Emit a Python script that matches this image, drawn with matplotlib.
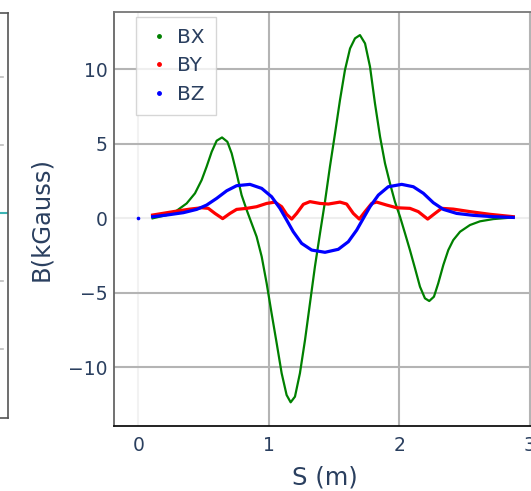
import matplotlib
matplotlib.use("Agg")
import matplotlib.pyplot as plt
from matplotlib.lines import Line2D

plt.rcParams['font.family'] = ['DejaVu Sans']

# Field components along the beamline, S in metres, B in kGauss
bx_s = [0.108, 0.216, 0.292, 0.369, 0.433, 0.484, 0.522, 0.561, 0.599, 0.640,
        0.681, 0.714, 0.752, 0.790, 0.829, 0.867, 0.905, 0.944, 0.982, 1.020,
        1.059, 1.097, 1.135, 1.166, 1.199, 1.237, 1.276, 1.314, 1.352, 1.391,
        1.429, 1.467, 1.506, 1.544, 1.582, 1.621, 1.659, 1.697, 1.736, 1.774,
        1.812, 1.851, 1.889, 1.927, 1.965, 2.004, 2.042, 2.080, 2.119, 2.157,
        2.195, 2.228, 2.264, 2.297, 2.336, 2.374, 2.412, 2.464, 2.540, 2.617,
        2.719, 2.872]
bx = [0.0, 0.22, 0.51, 1.0, 1.68, 2.57, 3.47, 4.47, 5.21, 5.43,
      5.14, 4.36, 3.02, 1.56, 0.56, -0.34, -1.23, -2.57, -4.36, -6.38,
      -8.39, -10.4, -11.86, -12.35, -11.97, -10.4, -8.17, -5.7, -3.24, -1.0,
      1.12, 3.47, 5.7, 7.94, 9.95, 11.4, 12.08, 12.3, 11.74, 10.18,
      7.72, 5.48, 3.69, 2.35, 1.12, 0.11, -1.0, -2.13, -3.36, -4.59,
      -5.37, -5.55, -5.26, -4.36, -3.13, -2.13, -1.46, -0.9, -0.45, -0.2,
      -0.05, 0.06]

by_s = [0.108, 0.267, 0.395, 0.484, 0.535, 0.586, 0.645, 0.701, 0.752, 0.829,
        0.905, 0.982, 1.046, 1.097, 1.135, 1.174, 1.212, 1.263, 1.314, 1.391,
        1.455, 1.544, 1.595, 1.646, 1.692, 1.736, 1.787, 1.825, 1.902, 1.978,
        2.080, 2.144, 2.216, 2.272, 2.323, 2.412, 2.540, 2.693, 2.872]
by = [0.22, 0.45, 0.62, 0.71, 0.67, 0.33, -0.02, 0.33, 0.6, 0.67,
      0.78, 1.0, 1.09, 0.78, 0.27, -0.05, 0.33, 0.94, 1.12, 1.0,
      0.96, 1.09, 0.96, 0.33, -0.05, 0.45, 1.0, 1.09, 0.89, 0.71,
      0.67, 0.45, -0.05, 0.33, 0.67, 0.62, 0.45, 0.27, 0.11]

bz_s = [0.0, 0.108, 0.216, 0.344, 0.446, 0.522, 0.599, 0.676, 0.752, 0.854,
        0.944, 1.020, 1.084, 1.135, 1.186, 1.250, 1.327, 1.429, 1.531, 1.608,
        1.672, 1.723, 1.774, 1.838, 1.914, 2.017, 2.106, 2.183, 2.259, 2.336,
        2.438, 2.566, 2.719, 2.872]
bz = [0.0, 0.11, 0.22, 0.38, 0.6, 0.89, 1.34, 1.85, 2.19, 2.28,
      2.01, 1.45, 0.67, -0.11, -0.9, -1.68, -2.13, -2.28, -2.08, -1.57,
      -0.79, 0.0, 0.78, 1.56, 2.12, 2.28, 2.12, 1.68, 1.05, 0.6,
      0.33, 0.2, 0.11, 0.06]

x_ticks = [0, 1, 2, 3]
y_ticks = [-10, -5, 0, 5, 10]
text_color = '#2a3f5f'
colors = {'BX': '#008000', 'BY': '#ff0000', 'BZ': '#0000ff'}

W, H = 531, 491
fig = plt.figure(figsize=(W / 100, H / 100), dpi=100)


def px_axes(left, top, right, bottom):
    return fig.add_axes([left / W, 1 - bottom / H, (right - left) / W, (bottom - top) / H])


# neighbouring panel, mostly outside the visible area
axl = px_axes(-60, 12.7, 7.5, 418)
axl.set_xlim(0, 1)
axl.set_ylim(-15.04, 14.76)
axl.set_xticks([])
axl.set_yticks([])
for yv in y_ticks:
    if yv != 0:
        axl.axhline(yv, xmin=0, xmax=63.3 / 67.5, color='#bdbdbd', linewidth=1.2)
axl.plot([0.0, 1.0], [0.0, 0.0], color='#3cb4b4', linewidth=1.5)
for side in ['right', 'top', 'bottom']:
    axl.spines[side].set_color('#555555')
    axl.spines[side].set_linewidth(1.2)
axl.spines['left'].set_visible(False)

# main panel
ax = px_axes(114, 12, 545, 426)
ax.set_xlim(-0.1877, 3.115)
ax.set_ylim(-13.94, 13.85)

ax.set_xticks(x_ticks)
ax.set_yticks(y_ticks)
ax.grid(True, color='#b4b4b4', linewidth=1.5)
ax.set_axisbelow(True)
ax.axhline(0, color='#eeeeee', linewidth=1.5, zorder=0.5)
ax.axvline(0, color='#f2f2f2', linewidth=1.5, zorder=0.5)
ax.xaxis.get_gridlines()[0].set_visible(False)
ax.yaxis.get_gridlines()[2].set_visible(False)

ax.plot(bx_s, bx, color=colors['BX'], linewidth=1.6)
ax.plot(by_s, by, color=colors['BY'], linewidth=2.3)
ax.plot(bz_s[1:], bz[1:], color=colors['BZ'], linewidth=2.3)
ax.plot(bz_s[:1], bz[:1], linestyle='none', marker='o', markersize=1.6,
        color=colors['BZ'])

ax.tick_params(axis='both', length=0, labelsize=13.5, colors=text_color)
ax.tick_params(axis='y', pad=4.5)
ax.tick_params(axis='x', pad=7)

ax.spines['right'].set_visible(False)
ax.spines['left'].set_color('#666666')
ax.spines['left'].set_linewidth(1.3)
ax.spines['top'].set_color('#777777')
ax.spines['top'].set_linewidth(1.3)
ax.spines['bottom'].set_color('#111111')
ax.spines['bottom'].set_linewidth(1.3)

fig.text(41 / W, 1 - 219 / H, 'B(kGauss)', rotation=90, ha='center', va='center',
         fontsize=17.5, color=text_color)
fig.text(325 / W, 1 - 478 / H, 'S (m)', ha='center', va='center',
         fontsize=17.5, color=text_color)

handles = [Line2D([], [], linestyle='none', marker='o', markersize=2.5, color=colors[k])
           for k in ['BX', 'BY', 'BZ']]
leg = ax.legend(handles, ['BX', 'BY', 'BZ'], loc='upper left',
                bbox_to_anchor=((136 - 114) / 431, 1 - (16.7 - 12) / 414),
                borderaxespad=0, frameon=True, fancybox=False, fontsize=14.5,
                handlelength=1.15, handletextpad=0.35, borderpad=0.55,
                labelspacing=0.47, labelcolor=text_color)
leg.get_frame().set_edgecolor('#cccccc')
leg.get_frame().set_linewidth(1.0)

fig.savefig('out.png', dpi=100)
